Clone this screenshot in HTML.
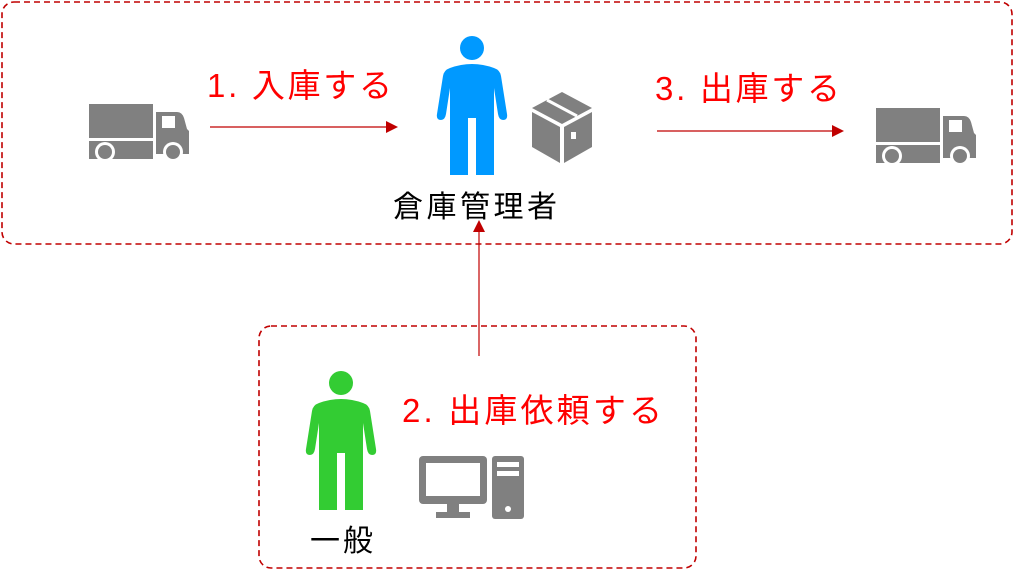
<!DOCTYPE html>
<html><head><meta charset="utf-8"><style>
html,body{margin:0;padding:0;background:#fff;}
svg{display:block}
text{font-family:"Liberation Sans","Noto Sans CJK JP",sans-serif;}
</style></head><body>
<svg width="1014" height="581" viewBox="0 0 1014 581" xmlns="http://www.w3.org/2000/svg">
<defs>
<g id="person">
<circle cx="472" cy="48" r="12"/>
<path d="M450,68 Q472,60 494,68 Q500,70 501,76 L507,114 Q508,120 503,120 Q499,120 498,114 L494,88 L494,175 L476,175 L476,118 L468,118 L468,175 L450,175 L450,88 L446,114 Q445,120 441,120 Q436,120 437,114 L443,76 Q444,70 450,68 Z"/>
</g>
<g id="truck">
<rect x="0" y="0" width="64" height="34"/>
<rect x="0" y="37" width="64" height="18"/>
<path d="M67,8 L88,8 Q93,8 95,14 L98,25 L100,27 L100,50 L67,50 Z"/>
<rect x="73" y="12" width="13" height="12" fill="#fff"/>
<circle cx="16" cy="48" r="10" fill="#fff"/><circle cx="16" cy="48" r="7"/>
<circle cx="84" cy="48" r="10" fill="#fff"/><circle cx="84" cy="48" r="7"/>
</g>
</defs>
<rect x="2" y="2" width="1010" height="242" rx="12" fill="none" stroke="#c00000" stroke-width="1.6" stroke-dasharray="6,4"/>
<rect x="259" y="326" width="437" height="242" rx="12" fill="none" stroke="#c00000" stroke-width="1.6" stroke-dasharray="6,4"/>

<use href="#truck" x="89" y="104" fill="#808080"/>
<use href="#truck" x="876" y="108" fill="#808080"/>

<g fill="#808080">
<path d="M532,108 L562,92 L592,108 L562,124 Z"/>
<path d="M532,112 L560,127 L560,163 L532,147 Z"/>
<path d="M564,127 L592,112 L592,147 L564,163 Z"/>
</g>
<path d="M547,100 L577,116" stroke="#fff" stroke-width="3"/>
<rect x="571" y="132" width="5" height="7" fill="#fff"/>

<use href="#person" fill="#0099ff"/>
<use href="#person" fill="#33cc33" transform="translate(-131,335)"/>

<g fill="#808080">
<rect x="419" y="456" width="68" height="48" rx="4"/>
<rect x="426" y="463" width="54" height="33" fill="#fff"/>
<rect x="447" y="504" width="12" height="8"/>
<rect x="436" y="512" width="34" height="6"/>
<rect x="492" y="456" width="32" height="63" rx="3"/>
</g>
<rect x="497" y="462" width="22" height="5" fill="#fff"/>
<rect x="497" y="471" width="22" height="5" fill="#fff"/>
<circle cx="508" cy="509" r="3" fill="#fff"/>

<g stroke="#c00000" stroke-width="1.2">
<line x1="210" y1="127" x2="388" y2="127"/>
<line x1="657" y1="131" x2="834" y2="131"/>
<line x1="479" y1="356" x2="479" y2="230"/>
</g>
<g fill="#c00000">
<path d="M398,127 L386,121 L386,133 Z"/>
<path d="M844,131 L832,125 L832,137 Z"/>
<path d="M479,220 L473,232 L485,232 Z"/>
</g>

<text x="207" y="97" font-size="33" fill="#ff0000" textLength="185" lengthAdjust="spacing">1. 入庫する</text>
<text x="655" y="100" font-size="33" fill="#ff0000" textLength="185" lengthAdjust="spacing">3. 出庫する</text>
<text x="402" y="422" font-size="33" fill="#ff0000" textLength="260" lengthAdjust="spacing">2. 出庫依頼する</text>
<text x="393" y="217" font-size="30" fill="#000" textLength="164" lengthAdjust="spacing">倉庫管理者</text>
<text x="310" y="551" font-size="30" fill="#000" textLength="63" lengthAdjust="spacing">一般</text>
</svg>
</body></html>
